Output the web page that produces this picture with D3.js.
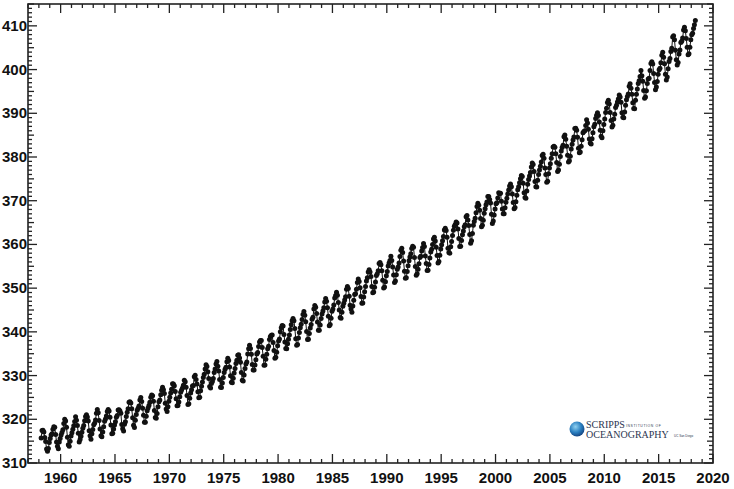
<!DOCTYPE html>
<html>
<head>
<meta charset="utf-8">
<script src="https://cdn.jsdelivr.net/npm/d3@7"></script>
<style>
  body { margin: 0; background: #fff; }
  svg { display: block; font-family: "Liberation Sans", Arial, sans-serif; }
  .tick-label { font-size: 15px; font-weight: bold; fill: #111; }
</style>
</head>
<body>
<svg id="chart" width="734" height="489"></svg>
<script>
// Mauna Loa monthly mean CO2 (ppm), rows by year, Jan..Dec (null = not plotted)
const startYear = 1958;
const co2_1950s = [
  [null, null, 315.71, 317.45, 317.50, 317.10, 315.86, 314.93, 313.20, 312.66, 313.33, 314.67],
  [315.62, 316.38, 316.71, 317.72, 318.29, 318.15, 316.54, 314.80, 313.84, 313.26, 314.80, 315.58]
];
const co2_1960s = [
  [316.43, 316.97, 317.58, 319.02, 320.03, 319.59, 318.18, 315.91, 314.16, 313.83, 315.00, 316.19],
  [316.93, 317.70, 318.54, 319.48, 320.58, 319.77, 318.57, 316.79, 314.80, 315.38, 316.10, 317.01],
  [317.94, 318.56, 319.68, 320.63, 321.01, 320.55, 319.58, 317.40, 316.26, 315.42, 316.69, 317.69],
  [318.74, 319.08, 319.86, 321.39, 322.25, 321.47, 319.74, 317.77, 316.21, 315.99, 317.12, 318.31],
  [319.57, 320.07, 320.73, 321.77, 322.25, 321.89, 320.44, 318.70, 316.70, 316.79, 317.79, 318.71],
  [319.44, 320.44, 320.89, 322.13, 322.16, 321.87, 321.39, 318.81, 317.81, 317.30, 318.87, 319.42],
  [320.62, 321.59, 322.39, 323.87, 324.01, 323.75, 322.39, 320.37, 318.64, 318.10, 319.79, 321.08],
  [322.07, 322.50, 323.04, 324.42, 325.00, 324.09, 322.55, 320.92, 319.31, 319.31, 320.72, 321.96],
  [322.57, 323.15, 323.89, 325.02, 325.57, 325.36, 324.14, 322.03, 320.41, 320.25, 321.31, 322.84],
  [324.00, 324.42, 325.64, 326.66, 327.34, 326.76, 325.88, 323.67, 322.38, 321.78, 322.85, 324.11]
];
const co2_1970s = [
  [325.03, 325.99, 326.87, 328.13, 328.07, 327.66, 326.35, 324.69, 323.10, 323.16, 323.98, 325.13],
  [326.17, 326.68, 327.18, 327.78, 328.92, 328.57, 327.34, 325.46, 323.36, 323.57, 324.80, 326.01],
  [326.77, 327.63, 327.75, 329.72, 330.07, 329.09, 328.05, 326.32, 324.93, 325.06, 326.50, 327.55],
  [328.54, 329.56, 330.30, 331.50, 332.48, 332.07, 330.87, 329.31, 327.51, 327.18, 328.16, 328.64],
  [329.35, 330.71, 331.48, 332.65, 333.20, 332.16, 331.07, 329.12, 327.32, 327.28, 328.30, 329.58],
  [330.73, 331.46, 331.90, 333.17, 333.94, 333.45, 331.97, 329.95, 328.50, 328.34, 329.37, 330.58],
  [331.59, 332.75, 333.52, 334.64, 334.77, 334.00, 333.06, 330.68, 328.95, 328.75, 330.15, 331.62],
  [332.66, 333.13, 334.95, 336.13, 336.93, 336.17, 334.88, 332.56, 331.29, 331.27, 332.41, 333.60],
  [334.95, 335.25, 336.66, 337.69, 338.03, 338.01, 336.41, 334.41, 332.37, 332.41, 333.75, 334.90],
  [336.14, 336.69, 338.27, 338.95, 339.21, 339.26, 337.54, 335.75, 333.98, 334.19, 335.31, 336.81]
];
const co2_1980s = [
  [337.90, 338.34, 340.01, 340.93, 341.48, 341.33, 339.40, 337.70, 336.19, 336.15, 337.27, 338.32],
  [339.29, 340.55, 341.61, 342.53, 343.03, 342.54, 340.78, 338.44, 336.95, 337.08, 338.58, 339.88],
  [340.96, 341.73, 342.81, 343.97, 344.63, 343.79, 342.32, 340.09, 338.28, 338.29, 339.60, 340.90],
  [341.68, 342.90, 343.33, 345.25, 346.03, 345.63, 344.19, 342.27, 340.35, 340.38, 341.59, 343.05],
  [344.10, 344.79, 345.52, 346.84, 347.63, 346.98, 345.53, 343.55, 341.40, 341.67, 343.10, 344.70],
  [345.21, 346.16, 347.74, 348.34, 349.06, 348.38, 346.72, 345.02, 343.27, 343.13, 344.49, 345.88],
  [346.56, 347.28, 348.01, 349.77, 350.38, 349.93, 348.16, 346.08, 345.22, 344.51, 345.93, 347.22],
  [348.52, 348.73, 349.73, 351.31, 352.09, 351.53, 350.11, 348.08, 346.52, 346.59, 347.96, 349.16],
  [350.39, 351.64, 352.40, 353.69, 354.21, 353.72, 352.69, 350.40, 348.92, 349.13, 350.20, 351.41],
  [352.91, 353.27, 353.96, 355.64, 355.86, 355.37, 353.99, 351.81, 350.05, 350.25, 351.49, 352.85]
];
const co2_1990s = [
  [353.80, 355.04, 355.73, 356.32, 357.32, 356.34, 354.84, 353.01, 351.31, 351.62, 353.07, 354.33],
  [354.84, 355.73, 357.23, 358.66, 359.13, 358.13, 356.19, 353.85, 352.25, 352.35, 353.81, 355.12],
  [356.25, 357.11, 357.86, 359.09, 359.59, 359.33, 357.01, 354.94, 352.96, 353.32, 354.32, 355.57],
  [357.00, 357.31, 358.47, 359.27, 360.19, 359.52, 357.33, 355.64, 354.03, 354.12, 355.41, 356.91],
  [358.24, 358.92, 359.99, 361.23, 361.65, 360.81, 359.38, 357.46, 355.73, 356.08, 357.53, 358.98],
  [359.92, 360.86, 361.83, 363.30, 363.69, 363.19, 361.64, 359.12, 358.17, 357.99, 359.45, 360.68],
  [362.07, 363.24, 364.17, 364.57, 365.13, 364.92, 363.55, 361.38, 359.54, 359.58, 360.89, 362.24],
  [363.09, 364.03, 364.51, 366.35, 366.64, 365.59, 364.31, 362.25, 360.29, 360.82, 362.49, 364.38],
  [365.26, 365.98, 367.24, 368.66, 369.42, 368.99, 367.82, 365.95, 364.02, 364.40, 365.52, 367.13],
  [368.18, 369.07, 369.68, 370.99, 370.96, 370.30, 369.45, 366.90, 364.81, 365.37, 366.72, 368.10]
];
const co2_2000s = [
  [369.29, 369.55, 370.60, 371.82, 371.58, 371.70, 369.86, 368.13, 367.00, 367.03, 368.37, 369.67],
  [370.59, 371.51, 372.43, 373.37, 373.85, 373.21, 371.51, 369.61, 368.18, 368.45, 369.76, 371.24],
  [372.53, 373.20, 374.12, 375.02, 375.76, 375.52, 374.01, 371.85, 370.75, 370.55, 372.25, 373.79],
  [374.88, 375.64, 376.45, 377.73, 378.60, 378.28, 376.70, 374.38, 373.17, 373.14, 374.66, 375.99],
  [377.00, 377.87, 378.88, 380.35, 380.62, 379.69, 377.47, 376.01, 374.25, 374.46, 376.16, 377.51],
  [378.46, 379.73, 380.77, 382.29, 382.45, 382.21, 380.74, 378.74, 376.70, 377.00, 378.35, 380.11],
  [381.38, 382.19, 382.67, 384.61, 385.03, 384.05, 382.46, 380.41, 378.85, 379.13, 380.15, 381.82],
  [382.89, 383.90, 384.58, 386.50, 386.56, 386.10, 384.50, 381.99, 380.96, 381.12, 382.45, 383.95],
  [385.52, 385.82, 386.03, 387.21, 388.54, 387.76, 386.36, 384.09, 383.18, 382.99, 384.19, 385.56],
  [386.94, 387.48, 388.82, 389.55, 390.14, 389.48, 388.03, 386.11, 384.74, 384.43, 386.02, 387.42]
];
const co2_2010s = [
  [388.71, 390.20, 391.17, 392.46, 393.00, 392.15, 390.20, 388.35, 386.85, 387.24, 388.67, 389.79],
  [391.33, 391.86, 392.60, 393.25, 394.19, 393.74, 392.51, 390.13, 389.08, 389.00, 390.28, 391.86],
  [393.12, 393.86, 394.40, 396.18, 396.74, 395.71, 394.36, 392.39, 391.11, 391.05, 392.98, 394.34],
  [395.55, 396.80, 397.43, 398.41, 399.78, 398.60, 397.32, 395.20, 393.45, 393.70, 395.16, 396.84],
  [397.85, 398.01, 399.77, 401.38, 401.78, 401.25, 399.10, 397.03, 395.38, 396.03, 397.28, 398.91],
  [399.98, 400.28, 401.54, 403.28, 403.96, 402.80, 401.31, 398.93, 397.63, 398.29, 400.16, 401.85],
  [402.56, 404.12, 404.87, 407.45, 407.72, 406.83, 404.41, 402.27, 401.05, 401.59, 403.55, 404.45],
  [406.17, 406.46, 407.22, 409.04, 409.69, 408.88, 407.12, 405.13, 403.37, 403.63, 405.12, 406.81],
  [407.96, 408.32, 409.41, 410.24, 411.24, null, null, null, null, null, null, null]
];

const xDomain = [1957, 2020];
const yDomain = [310, 415];
const xMajorTicks = [1960, 1965, 1970, 1975, 1980, 1985, 1990, 1995, 2000, 2005, 2010, 2015, 2020];
const yMajorTicks = [310, 320, 330, 340, 350, 360, 370, 380, 390, 400, 410];

// flatten into {t, v} points, placed at the middle of each month
const rows = [].concat(co2_1950s, co2_1960s, co2_1970s, co2_1980s, co2_1990s, co2_2000s, co2_2010s);
const points = [];
rows.forEach((row, i) => {
    row.forEach((v, m) => {
        if (v !== null) points.push({ t: startYear + i + (m + 0.5) / 12, v: v });
    });
});

const svg = d3.select('#chart');
const mLeft = 28, mRight = 713, mTop = 4, mBottom = 463;

const X = d3.scaleLinear().domain(xDomain).range([mLeft, mRight]);
const Y = d3.scaleLinear().domain(yDomain).range([mBottom, mTop]);

const axisColor = '#222';

// minor/major tick sets
const xTicks = d3.range(xDomain[0], xDomain[1] + 1);
const yTicks = d3.range(yDomain[0], yDomain[1] + 1);
const xLen = d => (d % 5 === 0 ? 9 : 4);
const yLen = d => (d % 10 === 0 ? 9 : (d % 5 === 0 ? 6 : 4));

const ticks = svg.append('g').attr('class', 'ticks')
    .attr('stroke', axisColor).attr('stroke-width', 1.3);

// bottom + top ticks (pointing inward)
ticks.selectAll('line.xb').data(xTicks).join('line').attr('class', 'xb')
    .attr('x1', d => X(d)).attr('x2', d => X(d))
    .attr('y1', mBottom).attr('y2', d => mBottom - xLen(d));
ticks.selectAll('line.xt').data(xTicks).join('line').attr('class', 'xt')
    .attr('x1', d => X(d)).attr('x2', d => X(d))
    .attr('y1', mTop).attr('y2', d => mTop + xLen(d));
// left + right ticks
ticks.selectAll('line.yl').data(yTicks).join('line').attr('class', 'yl')
    .attr('y1', d => Y(d)).attr('y2', d => Y(d))
    .attr('x1', mLeft).attr('x2', d => mLeft + yLen(d));
ticks.selectAll('line.yr').data(yTicks).join('line').attr('class', 'yr')
    .attr('y1', d => Y(d)).attr('y2', d => Y(d))
    .attr('x1', mRight).attr('x2', d => mRight - yLen(d));

// frame
svg.append('rect')
    .attr('x', mLeft).attr('y', mTop)
    .attr('width', mRight - mLeft).attr('height', mBottom - mTop)
    .attr('fill', 'none').attr('stroke', axisColor).attr('stroke-width', 1.6);

// tick labels
svg.append('g').selectAll('text').data(xMajorTicks).join('text')
    .attr('class', 'tick-label')
    .attr('x', d => X(d)).attr('y', mBottom + 20)
    .attr('text-anchor', 'middle')
    .text(d => d);
svg.append('g').selectAll('text').data(yMajorTicks).join('text')
    .attr('class', 'tick-label')
    .attr('x', mLeft - 1).attr('y', d => Y(d) + 5)
    .attr('text-anchor', 'end')
    .text(d => d);

// data: thin connecting line + dots
const line = d3.line().x(d => X(d.t)).y(d => Y(d.v));
svg.append('path')
    .datum(points)
    .attr('d', line)
    .attr('fill', 'none')
    .attr('stroke', '#111')
    .attr('stroke-width', 1);
svg.append('g').selectAll('circle').data(points).join('circle')
    .attr('cx', d => X(d.t)).attr('cy', d => Y(d.v))
    .attr('r', 2.5)
    .attr('fill', '#111');

// Scripps logo
const logo = svg.append('g').attr('class', 'logo');
const grad = svg.append('defs').append('radialGradient')
    .attr('id', 'globe').attr('cx', '40%').attr('cy', '35%').attr('r', '70%');
grad.append('stop').attr('offset', '0%').attr('stop-color', '#8fd0f0');
grad.append('stop').attr('offset', '55%').attr('stop-color', '#2a7fc0');
grad.append('stop').attr('offset', '100%').attr('stop-color', '#123d7a');
logo.append('circle').attr('cx', 577).attr('cy', 429).attr('r', 7.5).attr('fill', 'url(#globe)');
logo.append('text').attr('x', 586).attr('y', 428)
    .style('font-family', '"Liberation Serif", serif').style('font-size', '10px').attr('fill', '#2b3550')
    .text('SCRIPPS');
logo.append('text').attr('x', 626).attr('y', 427)
    .style('font-family', '"Liberation Sans", sans-serif').style('font-size', '3.4px').attr('fill', '#2b3550')
    .style('letter-spacing', '0.6px')
    .text('INSTITUTION OF');
logo.append('text').attr('x', 586).attr('y', 437.5)
    .style('font-family', '"Liberation Serif", serif').style('font-size', '10px').attr('fill', '#2b3550')
    .text('OCEANOGRAPHY');
logo.append('text').attr('x', 674).attr('y', 437)
    .style('font-family', '"Liberation Sans", sans-serif').style('font-size', '3px').attr('fill', '#2b3550')
    .text('UC San Diego');
</script>
</body>
</html>
